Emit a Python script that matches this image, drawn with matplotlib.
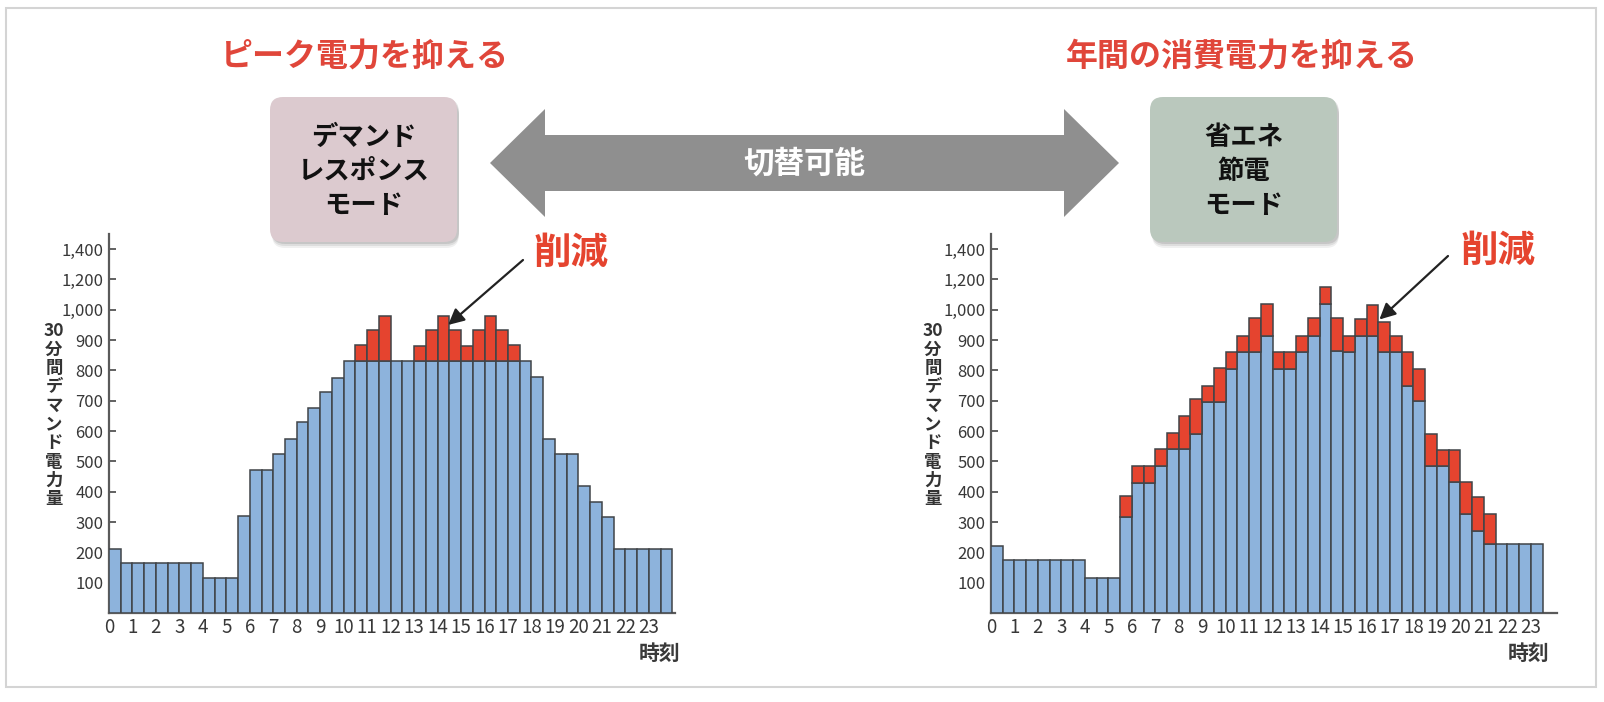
import numpy as np
import matplotlib
matplotlib.use("Agg")
import matplotlib.pyplot as plt
from matplotlib.patches import FancyBboxPatch, Polygon, Rectangle

plt.rcParams['font.family'] = ['Noto Sans CJK JP', 'DejaVu Sans']

# half-hour demand values (blue = after reduction, total = before reduction)
left_blue = [210, 165, 165, 165, 165, 165, 165, 165, 115, 115, 115, 320,
             470, 470, 525, 575, 630, 675, 730, 775, 830, 830, 830, 830,
             830, 830, 830, 830, 830, 830, 830, 830, 830, 830, 830, 830,
             778, 574, 525, 525, 420, 367, 316, 211, 211, 211, 211, 211]
left_total = [210, 165, 165, 165, 165, 165, 165, 165, 115, 115, 115, 320,
              470, 470, 525, 575, 630, 675, 730, 775, 830, 885, 935, 980,
              830, 830, 882, 932, 981, 932, 882, 932, 981, 932, 884, 830,
              778, 574, 525, 525, 420, 367, 316, 211, 211, 211, 211, 211]

right_blue = [220, 175, 175, 175, 175, 175, 175, 175, 115, 115, 115, 318,
              428, 428, 484, 541, 541, 591, 697, 697, 805, 860, 860, 915,
              805, 805, 860, 915, 1020, 865, 860, 915, 915, 860, 860, 750,
              700, 486, 486, 431, 327, 272, 228, 228, 228, 228, 228]
right_total = [220, 175, 175, 175, 175, 175, 175, 175, 115, 115, 115, 385,
               484, 484, 541, 594, 649, 706, 750, 807, 860, 915, 972, 1020,
               860, 860, 915, 972, 1075, 972, 915, 970, 1016, 960, 915, 860,
               805, 591, 536, 536, 431, 382, 327, 228, 228, 228, 228]

hour_labels = [str(h) for h in range(24)]
ytick_pos = [100, 200, 300, 400, 500, 600, 700, 800, 900, 1000, 1100, 1200]
ytick_labels = ['100', '200', '300', '400', '500', '600', '700', '800', '900',
                '1,000', '1,200', '1,400']

BLUE = '#8db3dc'
RED = '#e5442f'
EDGE = '#404448'
TXT = '#383838'
TITLE_RED = '#e0463a'

W, H = 1604, 702
fig = plt.figure(figsize=(W / 100, H / 100), dpi=100)
fig.patch.set_facecolor('white')


def draw_chart(rect, blue, total):
    ax = fig.add_axes(rect)
    blue = np.array(blue, dtype=float)
    total = np.array(total, dtype=float)
    x = np.arange(len(blue)) * 0.5
    ax.bar(x, blue, width=0.5, align='edge', color=BLUE, edgecolor=EDGE,
           linewidth=1.1, zorder=3)
    red = total - blue
    m = red > 0
    ax.bar(x[m], red[m], bottom=blue[m], width=0.5, align='edge', color=RED,
           edgecolor=EDGE, linewidth=1.1, zorder=3)
    ax.set_xlim(0, 24.1)
    ax.set_ylim(0, 1250)
    ax.set_yticks(ytick_pos)
    ax.set_yticklabels(ytick_labels)
    ax.set_xticks(range(24))
    ax.set_xticklabels(hour_labels)
    ax.tick_params(axis='y', direction='in', length=5, width=1.3, pad=4,
                   labelsize=12, color='#555555', labelcolor=TXT)
    ax.tick_params(axis='x', length=0, pad=3, labelsize=13.5, labelcolor=TXT)
    for s in ['top', 'right']:
        ax.spines[s].set_visible(False)
    for s in ['left', 'bottom']:
        ax.spines[s].set_color('#5a5a5a')
        ax.spines[s].set_linewidth(1.6)
    ax.patch.set_alpha(0)
    return ax


def fr(px_x, px_y_top, w, h):
    return [px_x / W, (H - px_y_top - h) / H, w / W, h / H]


ax_l = draw_chart(fr(109, 234, 565.6, 379), left_blue, left_total)
ax_r = draw_chart(fr(991, 234, 565.6, 379), right_blue, right_total)

# overlay in pixel coordinates
ov = fig.add_axes([0, 0, 1, 1], zorder=5)
ov.set_xlim(0, W)
ov.set_ylim(H, 0)
ov.axis('off')
ov.patch.set_alpha(0)

ov.add_patch(Rectangle((6, 8), 1590, 679, fill=False, edgecolor='#d4d4d4', lw=1.5))

# titles
ov.text(365, 57, 'ピーク電力を抑える', color=TITLE_RED, fontsize=23,
        fontweight='bold', ha='center', va='center')
ov.text(1242, 57, '年間の消費電力を抑える', color=TITLE_RED, fontsize=23,
        fontweight='bold', ha='center', va='center')

# mode boxes with soft shadow
for (bx, fc, label) in [(270, '#dccacf', 'デマンド\nレスポンス\nモード'),
                        (1150, '#bac8bd', '省エネ\n節電\nモード')]:
    bw, bh, by = 187, 145, 97
    for k, a in [(6, 0.06), (4, 0.08), (2, 0.1)]:
        ov.add_patch(FancyBboxPatch((bx + 2, by + k), bw, bh,
                                    boxstyle='round,pad=0,rounding_size=13',
                                    fc='black', ec='none', alpha=a))
    ov.add_patch(FancyBboxPatch((bx, by), bw, bh,
                                boxstyle='round,pad=0,rounding_size=13',
                                fc=fc, ec='none'))
    ov.text(bx + bw / 2, by + bh / 2 + 2, label, fontsize=19, fontweight='bold',
            color='#111111', ha='center', va='center', linespacing=1.35)

# double arrow
lt, rt, cy = 490, 1119, 163
hl, hh, sh = 55, 54, 28
arrow = Polygon([(lt, cy), (lt + hl, cy - hh), (lt + hl, cy - sh),
                 (rt - hl, cy - sh), (rt - hl, cy - hh), (rt, cy),
                 (rt - hl, cy + hh), (rt - hl, cy + sh), (lt + hl, cy + sh),
                 (lt + hl, cy + hh)], closed=True, fc='#8f8f8f', ec='none')
ov.add_patch(arrow)
ov.text((lt + rt) / 2, cy + 1, '切替可能', color='white', fontsize=22,
        fontweight='bold', ha='center', va='center')

# reduction labels
ov.text(571, 252, '削減', color=RED, fontsize=27, fontweight='bold',
        ha='center', va='center')
ov.text(1498, 250, '削減', color=RED, fontsize=27, fontweight='bold',
        ha='center', va='center')

ax_l.annotate('', xy=(14.45, 950), xytext=(523, H - 260), textcoords='figure pixels',
              arrowprops=dict(arrowstyle='-|>', color='#222222', lw=1.6,
                              mutation_scale=24, shrinkA=0, shrinkB=0), zorder=6)
ax_r.annotate('', xy=(16.55, 968), xytext=(1448, H - 256), textcoords='figure pixels',
              arrowprops=dict(arrowstyle='-|>', color='#222222', lw=1.6,
                              mutation_scale=24, shrinkA=0, shrinkB=0), zorder=6)

# axis labels
ylab = '30\n分\n間\nデ\nマ\nン\nド\n電\n力\n量'
for xl in [54, 933]:
    ov.text(xl, 415, ylab, fontsize=12.5, fontweight='bold', color='#333333',
            ha='center', va='center', linespacing=1.05)
for xl in [660, 1529]:
    ov.text(xl, 653, '時刻', fontsize=15, fontweight='bold', color='#3a3a3a',
            ha='center', va='center')

fig.savefig('out.png', dpi=100)
